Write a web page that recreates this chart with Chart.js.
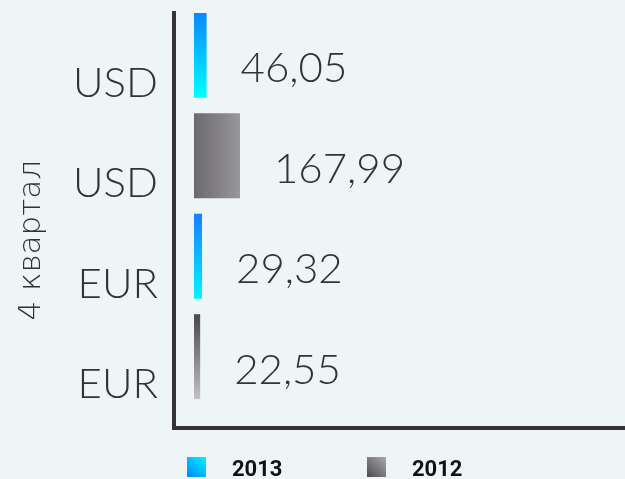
<!DOCTYPE html>
<html>
<head>
<meta charset="utf-8">
<script src="https://cdn.jsdelivr.net/npm/chart.js@4"></script>
<style>
  html, body { margin: 0; padding: 0; background: #edf5f6; }
  #wrap { width: 625px; height: 479px; }
</style>
</head>
<body>
<div id="wrap"><canvas id="chart"></canvas></div>
<script>
// === Daten ===
const CATEGORIES = ["USD", "USD", "EUR", "EUR"];
const SERIES_NAMES = ["2013", "2012"];
const VALUES_2013 = [46.05, null, 29.32, null];
const VALUES_2012 = [null, 167.99, null, 22.55];
const Y_TITLE = "4 квартал";

// === Stil ===
const FONT = "Lato, 'Noto Sans', sans-serif";
const TITLE_FONT = "'DejaVu Sans', sans-serif";
const TEXT_COLOR = "#333333";
const AXIS_COLOR = "#333333";
const BAR_PCT = 0.845;
// Verlauf je Balken (Index = Kategorie)
const BAR_GRADIENTS = [
  { dir: "v", from: "#0a86ff", to: "#00ffff" },
  { dir: "h", from: "#6b696d", to: "#98979a" },
  { dir: "v", from: "#1c7cff", to: "#00f6ff" },
  { dir: "v", from: "#4a464c", to: "#c2c2c2" },
];
const LEGEND_GRADIENTS = [
  { from: "#0086ff", to: "#00f4ff" },
  { from: "#4e4b50", to: "#a9a8ab" },
];

// nur Punkte mit Wert, y = Index der Kategorie
function toPoints(values) {
  return values
    .map((v, i) => (v === null ? null : { x: v, y: i }))
    .filter((p) => p !== null);
}

function barGradient(context) {
  const { chart, raw } = context;
  if (!chart.chartArea || !raw) return "#888888";
  const xs = chart.scales.x;
  const ys = chart.scales.y;
  const g = BAR_GRADIENTS[raw.y];
  const x0 = xs.getPixelForValue(0);
  const x1 = xs.getPixelForValue(raw.x);
  const yc = ys.getPixelForValue(raw.y);
  const half = Math.abs(ys.getPixelForValue(1) - ys.getPixelForValue(0)) * BAR_PCT / 2;
  const grad = g.dir === "v"
    ? chart.ctx.createLinearGradient(0, yc - half, 0, yc + half)
    : chart.ctx.createLinearGradient(x0, 0, x1, 0);
  grad.addColorStop(0, g.from);
  grad.addColorStop(1, g.to);
  return grad;
}

// === Werte neben den Balken ===
const valueLabels = {
  id: "valueLabels",
  afterDatasetsDraw(chart) {
    const ctx = chart.ctx;
    ctx.save();
    ctx.font = `300 42px ${FONT}`;
    ctx.fillStyle = TEXT_COLOR;
    ctx.textAlign = "left";
    ctx.textBaseline = "alphabetic";
    chart.data.datasets.forEach((ds, di) => {
      chart.getDatasetMeta(di).data.forEach((bar, i) => {
        const v = ds.data[i].x;
        ctx.fillText(v.toFixed(2).replace(".", ","), bar.x + 34, bar.y + 27);
      });
    });
    ctx.restore();
  },
};

// === Legende mit Verlauf ===
const gradientLegend = {
  id: "gradientLegend",
  afterDraw(chart) {
    const ctx = chart.ctx;
    const area = chart.chartArea;
    ctx.save();
    ctx.font = "bold 22px Roboto, sans-serif";
    ctx.textBaseline = "alphabetic";
    chart.data.datasets.forEach((ds, i) => {
      const bx = area.left + 13 + i * 180;
      const by = area.bottom + 29;
      const g = LEGEND_GRADIENTS[i];
      const grad = ctx.createLinearGradient(bx, by + 20, bx + 19, by);
      grad.addColorStop(0, g.from);
      grad.addColorStop(1, g.to);
      ctx.fillStyle = grad;
      ctx.fillRect(bx, by, 19, 20);
      ctx.fillStyle = "#111111";
      ctx.fillText(ds.label, bx + 45, by + 19);
    });
    ctx.restore();
  },
};

const chart = new Chart(document.getElementById("chart"), {
  type: "bar",
  data: {
    datasets: [
      { label: SERIES_NAMES[0], data: toPoints(VALUES_2013), backgroundColor: barGradient },
      { label: SERIES_NAMES[1], data: toPoints(VALUES_2012), backgroundColor: barGradient },
    ],
  },
  options: {
    indexAxis: "y",
    responsive: true,
    maintainAspectRatio: false,
    animation: false,
    grouped: false,
    barPercentage: BAR_PCT,
    categoryPercentage: 1,
    layout: { padding: { top: 13, right: 0, bottom: 51, left: 0 } },
    scales: {
      x: {
        type: "linear",
        min: -73,
        max: 1574,
        grid: { display: false, drawTicks: false },
        ticks: { display: false },
        border: { display: true, color: AXIS_COLOR, width: 4 },
        afterFit: (s) => { s.height = 0; },
      },
      y: {
        type: "linear",
        reverse: true,
        offset: false,
        min: -0.42,
        max: 3.71,
        grid: { display: false, drawTicks: false },
        border: { display: true, color: AXIS_COLOR, width: 4 },
        afterBuildTicks: (s) => { s.ticks = CATEGORIES.map((_, i) => ({ value: i })); },
        afterFit: (s) => {
          s.width = 174;
          s.paddingTop = 0;
          s.paddingBottom = 0;
        },
        ticks: {
          autoSkip: false,
          padding: 16,
          labelOffset: 28,
          color: TEXT_COLOR,
          font: { family: FONT, size: 42, weight: 300 },
          callback: (v) => CATEGORIES[v],
        },
        title: {
          display: true,
          text: Y_TITLE + "    ",
          color: TEXT_COLOR,
          font: { family: TITLE_FONT, size: 31, weight: 300 },
          padding: { top: 13, bottom: 0 },
        },
      },
    },
    plugins: {
      legend: { display: false },
      tooltip: { enabled: false },
    },
  },
  plugins: [valueLabels, gradientLegend],
});
</script>
</body>
</html>
